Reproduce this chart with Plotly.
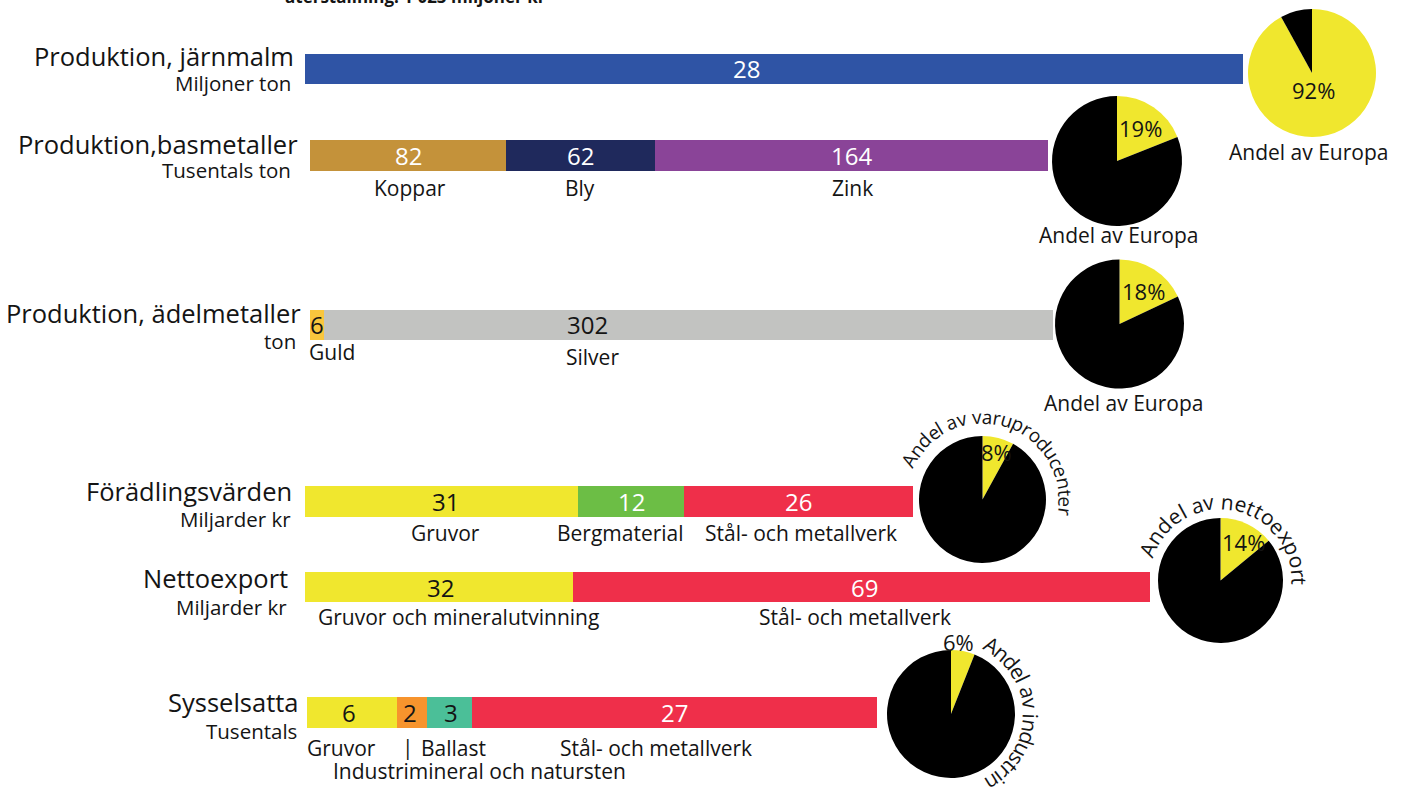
import math
import plotly.graph_objects as go

W, H = 1402, 789

# ------------------------------------------------------------------ data
header_text = "återställning: 1 023 miljoner kr"

row_titles = ["Produktion, järnmalm", "Produktion,basmetaller", "Produktion, ädelmetaller",
              "Förädlingsvärden", "Nettoexport", "Sysselsatta"]
row_units = ["Miljoner ton", "Tusentals ton", "ton", "Miljarder kr", "Miljarder kr", "Tusentals"]

iron_labels = ["Järnmalm"]
iron_values = [28]
base_labels = ["Koppar", "Bly", "Zink"]
base_values = [82, 62, 164]
precious_labels = ["Guld", "Silver"]
precious_values = [6, 302]
value_added_labels = ["Gruvor", "Bergmaterial", "Stål- och metallverk"]
value_added_values = [31, 12, 26]
netexport_labels = ["Gruvor och mineralutvinning", "Stål- och metallverk"]
netexport_values = [32, 69]
employed_labels = ["Gruvor", "Industrimineral och natursten", "Ballast", "Stål- och metallverk"]
employed_values = [6, 2, 3, 27]

pie_shares = [92, 19, 18, 8, 14, 6]
pie_captions = ["Andel av Europa", "Andel av Europa", "Andel av Europa",
                "Andel av varuproducenter", "Andel av nettoexport", "Andel av industrin"]

# ------------------------------------------------------------------ styles / layout
FONT = "Open Sans"
INK = "#141414"
YEL = "#F0E72E"
RED = "#EF2F4A"

rows = [
    dict(values=iron_values, labels=iron_labels, x0=305, x1=1243, yc=68.5, h=30,
         colors=["#2F54A5"], tcolors=["white"], vshift=[-28],
         title=(296, 56), unit=(293, 83),
         cat=[]),
    dict(values=base_values, labels=base_labels, x0=310, x1=1048, yc=155.5, h=31,
         colors=["#C4923A", "#1F295C", "#8A4498"], tcolors=["white"] * 3, vshift=[0, 0, 0],
         title=(300, 144), unit=(293, 170),
         cat=[(410, 188, "center"), (580, 188, "center"), (853, 188, "center")]),
    dict(values=precious_values, labels=precious_labels, x0=310, x1=1053, yc=324.5, h=30,
         colors=["#F9C63D", "#C2C3C1"], tcolors=[INK, INK], vshift=[0, -101],
         title=(303, 313), unit=(298, 341),
         cat=[(307, 352, "left"), (592, 357, "center")]),
    dict(values=value_added_values, labels=value_added_labels, x0=305, x1=913, yc=501.5, h=31,
         colors=[YEL, "#6CBE45", RED], tcolors=[INK, "white", "white"], vshift=[4, 0, 0],
         title=(294, 491), unit=(293, 519),
         cat=[(445, 533, "center"), (620, 533, "center"), (801, 533, "center")]),
    dict(values=netexport_values, labels=netexport_labels, x0=305, x1=1150, yc=587, h=30,
         colors=[YEL, RED], tcolors=[INK, "white"], vshift=[2, 3],
         title=(290, 578), unit=(289, 607),
         cat=[(458, 617, "center"), (855, 617, "center")]),
    dict(values=employed_values, labels=employed_labels, x0=307, x1=877, yc=712.5, h=31,
         colors=[YEL, "#F7942D", "#4BBF98", RED], tcolors=[INK, INK, INK, "white"],
         vshift=[-3, -2, 1, 0],
         title=(301, 702), unit=(299, 731),
         cat=[(341, 748, "center"), (479, 771, "center"), (453, 748, "center"), (656, 748, "center")]),
]

pies = [  # cx, cy, r, pct label pos, caption pos or arc spec (R, start, end, size)
    dict(cx=1312, cy=73, r=64, pct=(1313, 90), cap=(1308, 152)),
    dict(cx=1117, cy=161, r=65, pct=(1140, 128), cap=(1118, 235)),
    dict(cx=1119.5, cy=324, r=64.5, pct=(1143, 291), cap=(1123, 403)),
    dict(cx=982.5, cy=499.5, r=63.5, pct=(996.5, 452), arc=(83, -61.6, 98.3, 19)),
    dict(cx=1220.5, cy=580.5, r=62.5, pct=(1243, 542), arc=(79, -66.6, 91, 21)),
    dict(cx=951, cy=714, r=64, pct=(958, 642), arc=(80, 30.5, None, 21)),
]

# approximate advance widths (em) for arc text
CW = {"A": .633, "n": .614, "d": .613, "e": .561, "l": .266, " ": .26, "a": .556, "v": .499,
      "r": .408, "u": .614, "p": .613, "o": .604, "c": .476, "t": .353, "x": .523, "i": .266,
      "s": .477}


def px(x):
    return x / W


def py(y):
    return 1 - y / H


fig = go.Figure()
annotations = []


def ann(text, x, y, size, color=INK, xanchor="center", bold=False, **kw):
    annotations.append(dict(
        text=f"<b>{text}</b>" if bold else text, x=px(x), y=py(y), xref="paper", yref="paper",
        showarrow=False, xanchor=xanchor, yanchor="middle",
        font=dict(family=FONT, size=size, color=color), **kw))


layout_axes = {}
for k, row in enumerate(rows):
    ax = k + 2
    total = sum(row["values"])
    layout_axes[f"xaxis{ax}"] = dict(domain=[px(row["x0"]), px(row["x1"])], range=[0, total],
                                     anchor="y", visible=False, fixedrange=True)
    base = 0
    for v, lab, col, tcol, sh in zip(row["values"], row["labels"], row["colors"],
                                      row["tcolors"], row["vshift"]):
        fig.add_trace(go.Bar(
            x=[v], base=[base], y=[row["yc"]], width=[row["h"]], orientation="h",
            marker=dict(color=col, line=dict(width=0)), xaxis=f"x{ax}", yaxis="y",
            hoverinfo="skip", showlegend=False, name=lab))
        annotations.append(dict(
            text=str(v), x=base + v / 2, y=row["yc"], xref=f"x{ax}", yref="y",
            xshift=sh, showarrow=False, xanchor="center", yanchor="middle",
            font=dict(family=FONT, size=24, color=tcol)))
        base += v
    tx, ty = row["title"]
    ann(row_titles[k], tx, ty, 25.5, xanchor="right")
    ux, uy = row["unit"]
    ann(row_units[k], ux, uy, 20.5, xanchor="right")
    for lab, (cx, cy, anc) in zip(row["labels"], row["cat"]):
        ann(lab, cx, cy, 21, xanchor=anc)

# small divider mark between Gruvor and Ballast
ann("|", 408, 747, 21)

# pies
for share, cap, p in zip(pie_shares, pie_captions, pies):
    cx, cy, r = p["cx"], p["cy"], p["r"]
    fig.add_trace(go.Pie(
        values=[share, 100 - share], marker=dict(colors=[YEL, "#000000"], line=dict(width=0)),
        sort=False, direction="clockwise", rotation=0, textinfo="none", hoverinfo="skip",
        showlegend=False,
        domain=dict(x=[px(cx - r), px(cx + r)], y=[py(cy + r), py(cy - r)])))
    ann(f"{share}%", p["pct"][0], p["pct"][1], 22)
    if "cap" in p:
        ann(cap, p["cap"][0], p["cap"][1], 21)
    else:
        R, a0, a1, size = p["arc"]
        ws = [CW.get(c, .55) * size for c in cap]
        centers, s = [], 0
        for w in ws:
            centers.append(s + w / 2)
            s += w
        span_px = centers[-1] - centers[0]
        if a1 is None:
            scale = 1.0
        else:
            scale = math.radians(a1 - a0) * R / span_px
        for ch, c in zip(cap, centers):
            if ch == " ":
                continue
            ang = math.radians(a0) + (c - centers[0]) * scale / R
            x = cx + R * math.sin(ang)
            y = cy - R * math.cos(ang)
            annotations.append(dict(
                text=ch, x=px(x), y=py(y), xref="paper", yref="paper", showarrow=False,
                xanchor="center", yanchor="middle", textangle=math.degrees(ang),
                font=dict(family=FONT, size=size, color=INK)))

# header line, partly above the page edge
ann(header_text, 283, -4, 17, xanchor="left", bold=True)

fig.update_layout(
    width=W, height=H, autosize=False,
    margin=dict(l=0, r=0, t=0, b=0, pad=0),
    paper_bgcolor="white", plot_bgcolor="rgba(0,0,0,0)",
    barmode="overlay", bargap=0,
    xaxis=dict(domain=[0, 1], range=[0, W], visible=False, fixedrange=True),
    yaxis=dict(domain=[0, 1], range=[H, 0], visible=False, fixedrange=True),
    annotations=annotations,
    font=dict(family=FONT),
    **layout_axes,
)

fig.write_html("out.html", post_script="document.body.style.margin='0';",
               config={"displayModeBar": False})
